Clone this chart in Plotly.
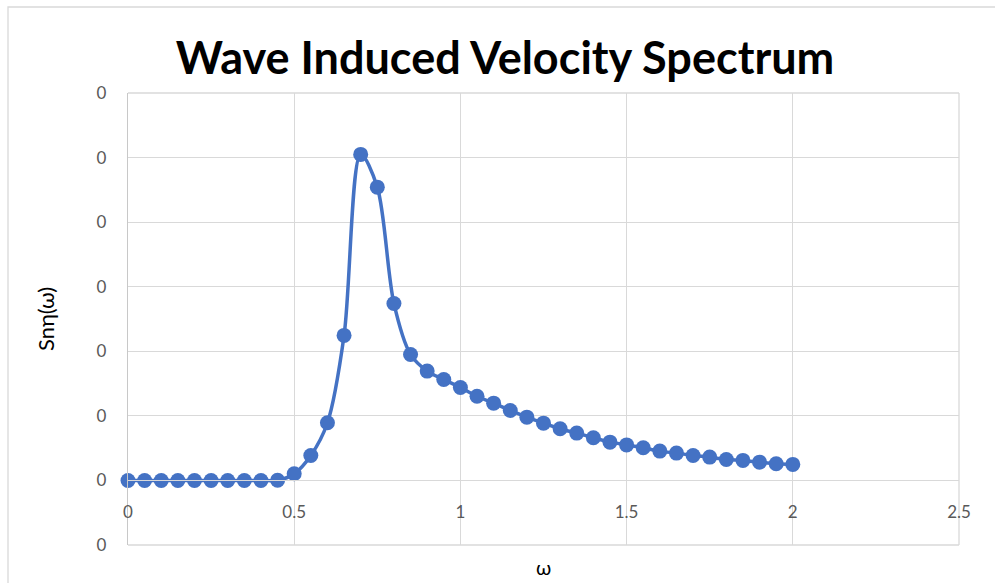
import plotly.graph_objects as go

# Data (omega in rad/s, spectrum values)
omega = [0.00, 0.05, 0.10, 0.15, 0.20, 0.25, 0.30, 0.35, 0.40, 0.45,
         0.50, 0.55, 0.60, 0.65, 0.70, 0.75, 0.80, 0.85, 0.90, 0.95,
         1.00, 1.05, 1.10, 1.15, 1.20, 1.25, 1.30, 1.35, 1.40, 1.45,
         1.50, 1.55, 1.60, 1.65, 1.70, 1.75, 1.80, 1.85, 1.90, 1.95, 2.00]
S = [0.0, 0.0, 0.0, 0.0, 0.0, 0.0, 0.0, 0.0, 0.0, 0.00002,
     0.00104, 0.00387, 0.00894, 0.02246, 0.05049, 0.04542, 0.02741, 0.01951, 0.01693, 0.01564,
     0.01440, 0.01304, 0.01197, 0.01084, 0.00980, 0.00887, 0.00801, 0.00733, 0.00661, 0.00593,
     0.00550, 0.00506, 0.00454, 0.00423, 0.00387, 0.00361, 0.00325, 0.00310, 0.00283, 0.00259, 0.00248]

x_ticks = [0, 0.5, 1, 1.5, 2, 2.5]
x_ticktext = ["0", "0.5", "1", "1.5", "2", "2.5"]
y_ticks = [-0.01, 0.0, 0.01, 0.02, 0.03, 0.04, 0.05, 0.06]
y_ticktext = ["0"] * len(y_ticks)

title = "Wave Induced Velocity Spectrum"
x_title = "ω"
y_title = "Snη(ω)"

blue = "#4472C4"
grid = "#d9d9d9"
txt = "#595959"
FONT = "Lato, Calibri, Carlito, sans-serif"

ymin, ymax = y_ticks[0], y_ticks[-1]
xmin, xmax = x_ticks[0], x_ticks[-1]

fig = go.Figure()
fig.add_trace(go.Scatter(
    x=omega, y=S, mode="lines+markers",
    line=dict(color=blue, width=3.5, shape="spline", smoothing=0.9),
    marker=dict(color=blue, size=15, line=dict(width=0)),
    cliponaxis=False, showlegend=False, hoverinfo="x+y",
))

W, H = 995, 583
ml, mr, mt, mb = 128, 36, 93, 38
pw, ph = W - ml - mr, H - mt - mb

fig.update_layout(
    width=W, height=H,
    margin=dict(l=ml, r=mr, t=mt, b=mb, pad=0),
    paper_bgcolor="white", plot_bgcolor="white",
    font=dict(family=FONT, color=txt, size=16),
    title=dict(text="<b>" + title + "</b>", x=505 / W, xanchor="center",
               y=1 - 58 / H, yanchor="middle", yref="container",
               font=dict(family=FONT, size=45, color="#000000")),
    xaxis=dict(range=[xmin, xmax], tickvals=x_ticks, ticktext=x_ticktext,
               showgrid=True, gridcolor=grid, gridwidth=1.3,
               zeroline=False, showline=True, linecolor=grid, linewidth=1.3,
               anchor="free", position=(0 - ymin) / (ymax - ymin),
               ticks="outside", ticklen=16, tickcolor="rgba(0,0,0,0)",
               tickfont=dict(size=17, color=txt, family=FONT)),
    yaxis=dict(range=[ymin, ymax], tickvals=y_ticks, ticktext=y_ticktext,
               showgrid=True, gridcolor=grid, gridwidth=1.3,
               zeroline=False, showline=True, linecolor="#c8c8c8", linewidth=1.3,
               ticks="outside", ticklen=17, tickcolor="rgba(0,0,0,0)",
               tickfont=dict(size=17, color=txt, family=FONT)),
)

# plot-area boundary gridlines (top, bottom, right) that Plotly omits at the edges
for (x0, y0, x1, y1) in [(0, 1, 1, 1), (0, 0, 1, 0), (1, 0, 1, 1)]:
    fig.add_shape(type="line", xref="paper", yref="paper",
                  x0=x0, y0=y0, x1=x1, y1=y1,
                  line=dict(color=grid, width=1.3), layer="below")

# axis titles
fig.add_annotation(text=x_title, xref="paper", yref="paper",
                   x=0.5, y=(545 - 567) / ph, xanchor="center", yanchor="middle",
                   showarrow=False, font=dict(family=FONT, size=20, color="#000000"))
fig.add_annotation(text=y_title, xref="paper", yref="paper",
                   x=(45 - ml) / pw, y=0.5, xanchor="center", yanchor="middle",
                   textangle=-90, showarrow=False,
                   font=dict(family=FONT, size=22, color="#000000"))

# outer chart border (light), only top and left visible in the frame
fig.add_shape(type="rect", xref="paper", yref="paper",
              x0=(8 - ml) / pw, x1=(W + 20 - ml) / pw,
              y0=-(mb + 20) / ph, y1=(545 - 7) / ph,
              line=dict(color="#d9d9d9", width=1.3), fillcolor="rgba(0,0,0,0)",
              layer="below")

fig.write_html("out.html")
